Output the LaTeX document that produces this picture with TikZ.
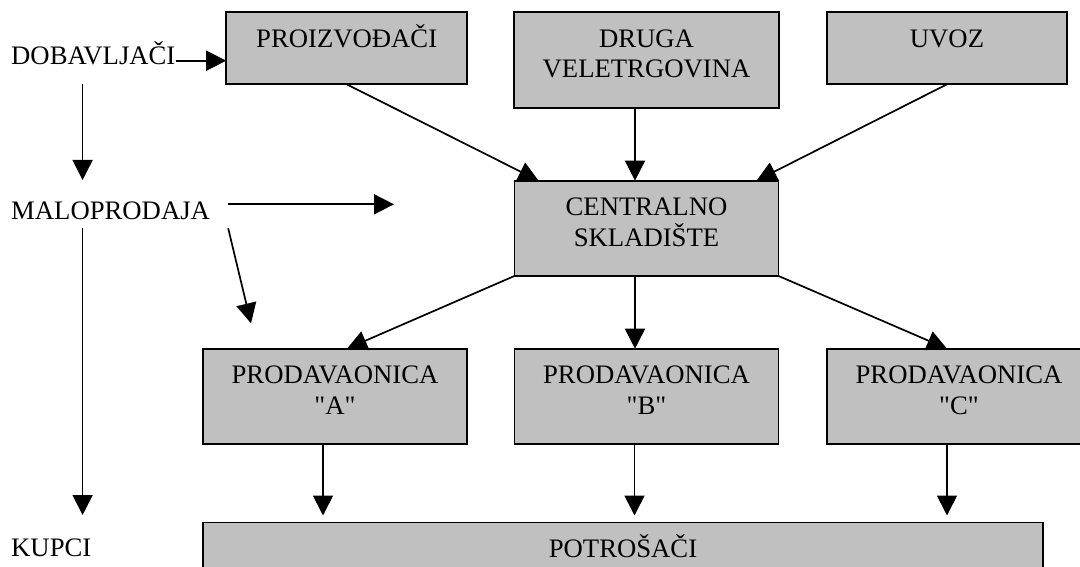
\documentclass[tikz,border=0pt]{standalone}
\usepackage{fontspec}
\setmainfont{Liberation Serif}
\usetikzlibrary{arrows.meta,calc}
\definecolor{sivo}{HTML}{C0C0C0}

\begin{document}
\begin{tikzpicture}[x=1pt,y=-1pt,
    kutija/.style={draw,fill=sivo,line width=1.8pt,inner sep=0pt,outer sep=0pt},
    tekst/.style={font=\fontsize{26.7}{30.7}\selectfont,inner sep=0pt,align=center},
    strelica/.style={line width=1.7pt,-{Triangle[length=20pt,width=20pt]}}]
  \useasboundingbox (0,0) rectangle (1080,567);
  \clip (0,0) rectangle (1080,567);

  % kutije
  \node[kutija,minimum width=241,minimum height=72] (proizvodjaci) at (346.7,48.3) {};
  \node[kutija,minimum width=265,minimum height=96] (druga) at (646.5,60.3) {};
  \node[kutija,minimum width=240,minimum height=72] (uvoz) at (947,48.3) {};
  \node[kutija,minimum width=264,minimum height=95.3] (skladiste) at (646.5,228.3) {};
  \foreach \ime/\x in {prodA/335,prodB/646.5,prodC/959} {
    \node[kutija,minimum width=264,minimum height=95.6] (\ime) at (\x,396.5) {};
  }
  \node[kutija,minimum width=840,minimum height=95.6] (potrosaci) at (623,570.3) {};

  % tekstovi u kutijama (base = zadnji red)
  \node[tekst,anchor=base] at ([yshift=-35pt]proizvodjaci.north) {PROIZVOĐAČI};
  \node[tekst,anchor=base] at ([yshift=-65.7pt]druga.north) {DRUGA\\VELETRGOVINA};
  \node[tekst,anchor=base] at ([yshift=-35pt]uvoz.north) {UVOZ};
  \node[tekst,anchor=base] at ([yshift=-65.7pt]skladiste.north) {CENTRALNO\\SKLADIŠTE};
  \foreach \ime/\slovo in {prodA/A,prodB/B,prodC/C} {
    \node[tekst,anchor=base] at ([yshift=-65.7pt]\ime.north) {PRODAVAONICA\\\textquotedbl\slovo\textquotedbl};
  }
  \node[tekst,anchor=base] at ([yshift=-35pt]potrosaci.north) {POTROŠAČI};

  % razine lijevo
  \node[tekst,anchor=base west] (dobavljaci) at (11,65) {DOBAVLJAČI};
  \node[tekst,anchor=base west] (maloprodaja) at (11,220) {MALOPRODAJA};
  \node[tekst,anchor=base west] (kupci) at (11,556.7) {KUPCI};

  \coordinate (lijevo) at (82.6,0);
  \coordinate (d1) at ([yshift=4.3pt]dobavljaci.base east);
  \draw[strelica] (d1) -- (d1 -| proizvodjaci.west);
  \draw[strelica] ([yshift=-19pt]dobavljaci.base -| lijevo) -- ([yshift=40pt]maloprodaja.base -| lijevo);
  \draw[strelica] ([yshift=-8pt]maloprodaja.base -| lijevo) -- ([yshift=41.7pt]kupci.base -| lijevo);
  \coordinate (m1) at ([xshift=18pt,yshift=15.7pt]maloprodaja.base east);
  \coordinate (m2) at ([xshift=18pt,yshift=-8.3pt]maloprodaja.base east);
  \coordinate (mKraj1) at (394,204.3);
  \coordinate (mKraj2) at (251,323.3);
  \draw[strelica] (m1) -- (mKraj1);
  \draw[strelica] (m2) -- (mKraj2);

  % tokovi robe
  \draw[strelica] (proizvodjaci.south) -- ([xshift=24pt]skladiste.north west);
  \draw[strelica] ([xshift=-11.5pt]druga.south) -- ([xshift=-11.5pt]skladiste.north);
  \draw[strelica] (uvoz.south) -- ([xshift=-22pt]skladiste.north east);
  \draw[strelica] (skladiste.south west) -- ([xshift=12pt]prodA.north);
  \draw[strelica] ([xshift=-11.5pt]skladiste.south) -- ([xshift=-11.5pt]prodB.north);
  \draw[strelica] (skladiste.south east) -- ([xshift=-12pt]prodC.north);
  \foreach \ime in {prodA,prodB,prodC} {
    \draw[strelica] ([xshift=-12pt]\ime.south) -- ([xshift=-12pt,yshift=7pt]\ime.south |- potrosaci.north);
  }
\end{tikzpicture}
\end{document}
